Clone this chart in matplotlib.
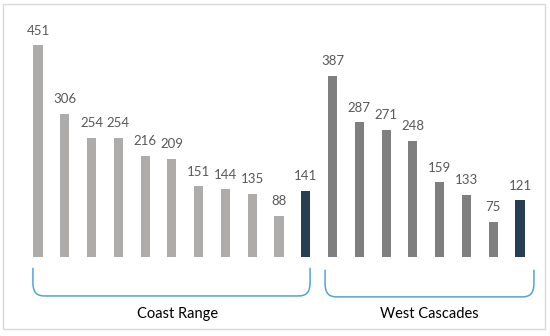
import matplotlib.pyplot as plt
import numpy as np
from matplotlib.path import Path
from matplotlib.patches import PathPatch, Rectangle

plt.rcParams['font.family'] = ['Lato', 'DejaVu Sans']

# data
coast_values = [451, 306, 254, 254, 216, 209, 151, 144, 135, 88, 141]
cascade_values = [387, 287, 271, 248, 159, 133, 75, 121]
groups = ["Coast Range", "West Cascades"]

LIGHT_GRAY = "#AEABAB"
DARK_GRAY = "#7F7F7F"
NAVY = "#263D54"
BRACE = "#4FA6D6"
LABEL = "#595959"

values = coast_values + cascade_values
colors = [LIGHT_GRAY] * (len(coast_values) - 1) + [NAVY] \
    + [DARK_GRAY] * (len(cascade_values) - 1) + [NAVY]
x = np.arange(len(values))

fig = plt.figure(figsize=(5.5, 3.36), dpi=100)
ax = fig.add_axes([0, 0, 1, 1])
ax.bar(x, values, width=0.34, color=colors)
for xi, v in zip(x, values):
    ax.annotate(str(v), (xi, v), xytext=(0, 10.5), textcoords="offset points",
                ha="center", va="center", fontsize=9.5, color=LABEL)


def brace(x0, x1, ytop, ybot, rx=0.45, ry=30):
    verts = [(x0, ytop), (x0, ybot + ry), (x0, ybot + ry * 0.2), (x0 + rx * 0.35, ybot),
             (x0 + rx, ybot), (x1 - rx, ybot), (x1 - rx * 0.35, ybot), (x1, ybot + ry * 0.2),
             (x1, ybot + ry), (x1, ytop)]
    codes = [Path.MOVETO, Path.LINETO, Path.CURVE4, Path.CURVE4, Path.CURVE4,
             Path.LINETO, Path.CURVE4, Path.CURVE4, Path.CURVE4, Path.LINETO]
    ax.add_patch(PathPatch(Path(verts, codes), fill=False, edgecolor=BRACE, lw=1.1))


n1 = len(coast_values)
brace(-0.19, n1 - 1 + 0.16, -23, -83)
brace(n1 - 0.28, len(values) - 1 + 0.52, -27, -85)
ax.text((n1 - 1) / 2 + 0.2, -122, groups[0], ha="center", va="center", fontsize=10.5, color="black")
ax.text((n1 + len(values) - 1) / 2 + 0.1, -122, groups[1], ha="center", va="center", fontsize=10.5, color="black")

ax.set_xlim(-1.419, 19.12)
ax.set_ylim(-168.4, 548)
ax.axis("off")

fig.patches.append(Rectangle((3 / 550, 7 / 336), 542 / 550, 325 / 336, transform=fig.transFigure,
                             fill=False, edgecolor="#D9D9D9", lw=1))
fig.savefig("out.png", dpi=100)
